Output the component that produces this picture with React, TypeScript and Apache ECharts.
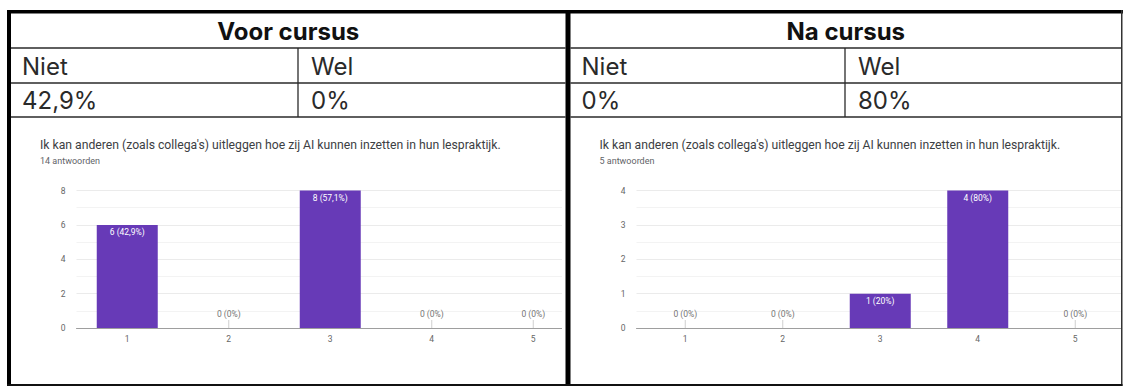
import React, { useEffect, useRef } from "react";
import * as echarts from "echarts";

// ---- data ----
const categories = ["1", "2", "3", "4", "5"];
const countsBefore = [6, 0, 8, 0, 0];
const countsAfter = [0, 0, 1, 4, 0];
const totalBefore = 14;
const totalAfter = 5;
const yMaxBefore = 8;
const yIntervalBefore = 2;
const yMaxAfter = 4;
const yIntervalAfter = 1;
const headers = ["Voor cursus", "Na cursus"];
const colHeads = ["Niet", "Wel"];
const pctBefore = ["42,9%", "0%"];
const pctAfter = ["0%", "80%"];
const question =
  "Ik kan anderen (zoals collega's) uitleggen hoe zij AI kunnen inzetten in hun lespraktijk.";
const answersBefore = "14 antwoorden";
const answersAfter = "5 antwoorden";

const PURPLE = "#673ab7";
const TABLE_FONT = "Inter, 'Liberation Sans', sans-serif";
const CHART_FONT = "Roboto, 'Liberation Sans', sans-serif";

function fmtPct(c: number, total: number) {
  const p = (c / total) * 100;
  const s = Number.isInteger(p) ? String(p) : p.toFixed(1).replace(".", ",");
  return `${c} (${s}%)`;
}

function barData(counts: number[]) {
  return counts.map((c) => ({
    value: c,
    label:
      c > 0
        ? { position: "insideTop", distance: 3, color: "#ffffff" }
        : { position: "top", distance: 10, color: "#757575" },
  }));
}

function stemData(counts: number[]) {
  return counts.map((c) => (c === 0 ? 0 : "-"));
}

export default function App() {
  const ref = useRef<HTMLDivElement>(null);

  useEffect(() => {
    document.body.style.margin = "0";
    const chart = echarts.init(ref.current!, null, { renderer: "svg" });

    const halves = [
      { x0: 11, x1: 565.5, xm: 298, head: headers[0], pct: pctBefore, ans: answersBefore },
      { x0: 570.5, x1: 1121, xm: 845, head: headers[1], pct: pctAfter, ans: answersAfter },
    ];

    const lineColor = "#2a2a2a";
    const graphics: any[] = [];
    // white covers for overflowing plot areas
    graphics.push({ type: "rect", z: 90, shape: { x: 562, y: 117, width: 30, height: 268 }, style: { fill: "#fff" } });
    graphics.push({ type: "rect", z: 90, shape: { x: 1122, y: 0, width: 10, height: 387 }, style: { fill: "#fff" } });

    halves.forEach((h) => {
      [48, 83, 117].forEach((y) => {
        graphics.push({
          type: "line",
          z: 100,
          shape: { x1: h.x0, y1: y, x2: h.x1, y2: y },
          style: { stroke: lineColor, lineWidth: 1.3 },
        });
      });
      graphics.push({
        type: "line",
        z: 100,
        shape: { x1: h.xm, y1: 48, x2: h.xm, y2: 117 },
        style: { stroke: lineColor, lineWidth: 1.3 },
      });
      graphics.push({
        type: "text",
        z: 100,
        x: (h.x0 + h.x1) / 2,
        y: 31,
        style: {
          text: h.head,
          fill: "#111",
          font: `bold 24px ${TABLE_FONT}`,
          textAlign: "center",
          textVerticalAlign: "middle",
        },
      });
      const cell = (x: number, y: number, text: string) =>
        graphics.push({
          type: "text",
          z: 100,
          x,
          y,
          style: { text, fill: "#2a2a2a", font: `24px ${TABLE_FONT}`, textVerticalAlign: "middle" },
        });
      cell(h.x0 + 11, 66, colHeads[0]);
      cell(h.xm + 13, 66, colHeads[1]);
      cell(h.x0 + 11, 100, h.pct[0]);
      cell(h.xm + 13, 100, h.pct[1]);
      // chart title & subtitle
      graphics.push({
        type: "text",
        z: 100,
        x: h.x0 + 29,
        y: 145,
        style: { text: question, fill: "#3c4043", font: `12.2px ${CHART_FONT}`, textVerticalAlign: "middle" },
      });
      graphics.push({
        type: "text",
        z: 100,
        x: h.x0 + 29,
        y: 160.5,
        style: { text: h.ans, fill: "#5f6368", font: `9px ${CHART_FONT}`, textVerticalAlign: "middle" },
      });
    });

    // thick borders
    graphics.push({ type: "rect", z: 110, shape: { x: 7, y: 10, width: 1116, height: 3.5 }, style: { fill: "#000" } });
    graphics.push({ type: "rect", z: 110, shape: { x: 7, y: 10, width: 4, height: 376 }, style: { fill: "#000" } });
    graphics.push({ type: "rect", z: 110, shape: { x: 565.5, y: 10, width: 5, height: 376 }, style: { fill: "#000" } });
    graphics.push({ type: "rect", z: 110, shape: { x: 1121, y: 10, width: 1.5, height: 376 }, style: { fill: "#333" } });
    graphics.push({ type: "rect", z: 110, shape: { x: 7, y: 384, width: 1115.5, height: 2 }, style: { fill: "#111" } });

    const xAxisCommon = {
      type: "category",
      data: categories,
      axisLine: { lineStyle: { color: "#9e9e9e", width: 1 } },
      axisTick: { show: false },
      axisLabel: { color: "#666", fontSize: 8.5, margin: 6, fontFamily: CHART_FONT },
    };
    const yAxisCommon = {
      type: "value",
      min: 0,
      axisLine: { show: false },
      axisTick: { show: false },
      axisLabel: { color: "#666", fontSize: 8.5, margin: 11, fontFamily: CHART_FONT },
      splitLine: { lineStyle: { color: "#ebebeb", width: 1 } },
      minorTick: { show: false, splitNumber: 2 },
      minorSplitLine: { show: true, lineStyle: { color: "#f3f3f3", width: 1 } },
    };

    const barCommon = {
      type: "bar",
      barWidth: 61,
      itemStyle: { color: PURPLE },
      label: { show: true, fontSize: 8.5, fontFamily: CHART_FONT },
    };

    chart.setOption({
      animation: false,
      grid: [
        { left: 76.5, top: 190.5, width: 507.5, height: 137.5 },
        { left: 636.5, top: 190.5, width: 507.5, height: 137.5 },
      ],
      xAxis: [
        { ...xAxisCommon, gridIndex: 0 },
        { ...xAxisCommon, gridIndex: 1 },
      ],
      yAxis: [
        { ...yAxisCommon, gridIndex: 0, max: yMaxBefore, interval: yIntervalBefore },
        { ...yAxisCommon, gridIndex: 1, max: yMaxAfter, interval: yIntervalAfter },
      ],
      series: [
        {
          ...barCommon,
          xAxisIndex: 0,
          yAxisIndex: 0,
          data: barData(countsBefore),
          label: {
            ...barCommon.label,
            formatter: (p: any) => fmtPct(countsBefore[p.dataIndex], totalBefore),
          },
        },
        {
          ...barCommon,
          xAxisIndex: 1,
          yAxisIndex: 1,
          data: barData(countsAfter),
          label: {
            ...barCommon.label,
            formatter: (p: any) => fmtPct(countsAfter[p.dataIndex], totalAfter),
          },
        },
        {
          type: "scatter",
          xAxisIndex: 0,
          yAxisIndex: 0,
          symbol: "rect",
          symbolSize: [1, 8],
          symbolOffset: [0, -4],
          itemStyle: { color: "#c4c4c4" },
          data: stemData(countsBefore),
          silent: true,
        },
        {
          type: "scatter",
          xAxisIndex: 1,
          yAxisIndex: 1,
          symbol: "rect",
          symbolSize: [1, 8],
          symbolOffset: [0, -4],
          itemStyle: { color: "#c4c4c4" },
          data: stemData(countsAfter),
          silent: true,
        },
      ],
      graphic: graphics,
    });

    return () => chart.dispose();
  }, []);

  return (
    <div
      ref={ref}
      style={{ position: "absolute", left: 0, top: 0, width: 1124, height: 387, background: "#fff" }}
    />
  );
}
